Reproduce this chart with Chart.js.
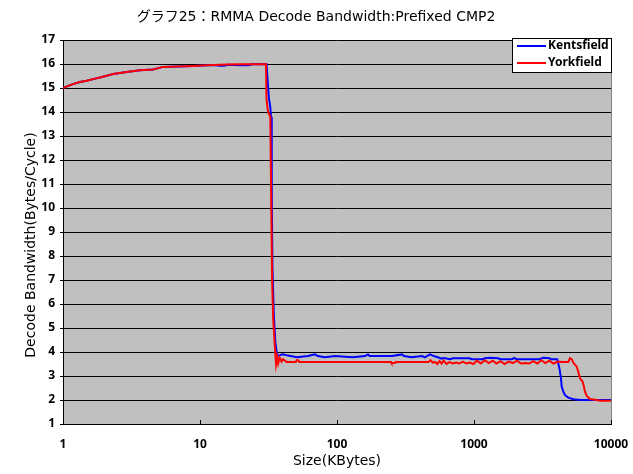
<!DOCTYPE html>
<html>
<head>
<meta charset="utf-8">
<script src="https://cdn.jsdelivr.net/npm/chart.js@4"></script>
<style>
  html, body { margin: 0; padding: 0; background: #fff; }
  canvas { display: block; }
</style>
</head>
<body>
<canvas id="grafico" width="633" height="474"></canvas>
<script>
// datos
const chartTitle = 'グラフ25：RMMA Decode Bandwidth:Prefixed CMP2';
const yAxisTitle = 'Decode Bandwidth(Bytes/Cycle)';
const xTickValues = [1, 10, 100, 1000, 10000];

const kentsfieldSizes = [
    1, 1.06, 1.18, 1.33, 1.49, 1.66, 1.96, 2.32, 2.92, 3.65,
    4.54, 5.37, 8.9, 12.4, 14, 15, 16, 19.6, 22.4, 24,
    30.6, 31.0, 31.8, 32.6, 33.0, 33.4, 33.8, 34.6, 35.5, 36.5,
    37.1, 40.3, 43.9, 51, 61.5, 68.9, 72.4, 81.6, 96.9, 130,
    160, 168, 173, 252, 298, 309, 352, 417, 438, 477,
    509, 544, 581, 600, 670, 700, 930, 960, 1160, 1200,
    1300, 1500, 1560, 1900, 1960, 2050, 3000, 3200, 3550, 3650,
    4050, 4200, 4300, 4370, 4490, 4620, 4880, 5310, 6000, 10000
];
const kentsfieldBW = [
    15.0, 15.06, 15.16, 15.25, 15.30, 15.37, 15.47, 15.58, 15.67, 15.74,
    15.77, 15.88, 15.92, 15.96, 15.93, 15.93, 15.97, 15.95, 15.95, 15.99,
    15.99, 15.5, 14.6, 14.2, 13.8, 10.5, 7.5, 5.5, 4.4, 3.88,
    3.85, 3.90, 3.85, 3.78, 3.83, 3.90, 3.83, 3.78, 3.83, 3.78,
    3.83, 3.90, 3.83, 3.83, 3.90, 3.83, 3.78, 3.83, 3.78, 3.90,
    3.83, 3.78, 3.72, 3.75, 3.70, 3.74, 3.74, 3.70, 3.70, 3.74,
    3.76, 3.74, 3.70, 3.70, 3.75, 3.70, 3.70, 3.76, 3.74, 3.70,
    3.70, 3.33, 2.97, 2.55, 2.35, 2.2, 2.1, 2.03, 2.0, 2.0
];

const yorkfieldSizes = [
    1, 1.06, 1.18, 1.33, 1.49, 1.66, 1.96, 2.32, 2.92, 3.65,
    4.54, 5.37, 8.9, 12.4, 16, 19.6, 30.3, 30.6, 31.4, 32.6,
    33.0, 33.6, 34.2, 35.2, 35.9, 36.5, 37.2, 38.1, 39.4, 40.4,
    43.0, 50.0, 50.8, 52.3, 53.0, 248, 250, 265, 268, 465,
    480, 500, 522, 540, 560, 580, 600, 630, 660, 700,
    740, 780, 830, 880, 930, 990, 1050, 1120, 1200, 1280,
    1370, 1460, 1560, 1670, 1790, 1920, 2060, 2200, 2360, 2530,
    2710, 2900, 3100, 3320, 3550, 3800, 4100, 4400, 4880, 5020,
    5165, 5313, 5620, 5770, 5940, 6210, 6350, 6460, 6650, 7030,
    7870, 8310, 10000
];
const yorkfieldBW = [
    15.0, 15.06, 15.16, 15.25, 15.30, 15.37, 15.47, 15.58, 15.67, 15.74,
    15.77, 15.88, 15.92, 15.96, 15.98, 15.99, 15.99, 14.5, 14.0, 13.8,
    11.0, 7.0, 5.4, 4.2, 3.5, 3.8, 3.52, 3.77, 3.6, 3.7,
    3.58, 3.58, 3.66, 3.66, 3.58, 3.58, 3.54, 3.54, 3.58, 3.58,
    3.66, 3.56, 3.58, 3.50, 3.62, 3.52, 3.64, 3.50, 3.58, 3.52,
    3.56, 3.52, 3.60, 3.52, 3.56, 3.50, 3.64, 3.52, 3.66, 3.54,
    3.64, 3.52, 3.62, 3.50, 3.60, 3.54, 3.64, 3.52, 3.54, 3.52,
    3.62, 3.52, 3.66, 3.54, 3.64, 3.52, 3.60, 3.58, 3.58, 3.74,
    3.70, 3.55, 3.39, 3.18, 2.9, 2.76, 2.55, 2.35, 2.17, 2.04,
    2.0, 1.97, 1.97
];

const FONT = "'DejaVu Sans', 'Noto Sans CJK JP', sans-serif";
const TICK_FONT = "'Noto Sans', 'DejaVu Sans', sans-serif";

function toPoints(xs, ys) {
    return xs.map((x, i) => ({ x: x, y: ys[i] }));
}

// fondo gris, borde, marcas del eje x, titulos y leyenda estilo Excel
const excelLook = {
    id: 'excelLook',
    beforeDraw(chart) {
        const { ctx, chartArea: a } = chart;
        ctx.save();
        ctx.fillStyle = '#ffffff';
        ctx.fillRect(0, 0, chart.width, chart.height);
        ctx.fillStyle = '#c0c0c0';
        ctx.fillRect(a.left, a.top, a.right - a.left, a.bottom - a.top);
        ctx.restore();
    },
    afterDraw(chart) {
        const { ctx, chartArea: a } = chart;
        const xScale = chart.scales.x;
        ctx.save();

        // borde derecho gris
        ctx.strokeStyle = '#808080';
        ctx.lineWidth = 1;
        ctx.beginPath();
        ctx.moveTo(a.right + 0.5, a.top);
        ctx.lineTo(a.right + 0.5, a.bottom);
        ctx.stroke();

        // marcas hacia adentro en el eje x
        ctx.strokeStyle = '#000';
        xTickValues.forEach(v => {
            const px = Math.round(xScale.getPixelForValue(v)) + 0.5;
            ctx.beginPath();
            ctx.moveTo(px, a.bottom);
            ctx.lineTo(px, a.bottom - 4);
            ctx.stroke();
        });

        // titulo
        ctx.fillStyle = '#000';
        ctx.font = '14px ' + FONT;
        ctx.textAlign = 'center';
        ctx.textBaseline = 'middle';
        ctx.fillText(chartTitle, 316, 17);

        // titulo del eje y
        ctx.save();
        ctx.translate(31, 245);
        ctx.rotate(-Math.PI / 2);
        ctx.fillText(yAxisTitle, 0, 0);
        ctx.restore();

        // leyenda
        const lx = 512, ly = 38, lw = 99, lh = 34;
        ctx.fillStyle = '#fff';
        ctx.fillRect(lx, ly, lw, lh);
        ctx.strokeStyle = '#000';
        ctx.lineWidth = 1;
        ctx.strokeRect(lx + 0.5, ly + 0.5, lw, lh);
        ctx.font = 'bold 12px ' + TICK_FONT;
        ctx.textAlign = 'left';
        chart.data.datasets.forEach((ds, i) => {
            const y = ly + 8 + i * 17;
            ctx.strokeStyle = ds.borderColor;
            ctx.lineWidth = 2;
            ctx.beginPath();
            ctx.moveTo(lx + 5, y);
            ctx.lineTo(lx + 34, y);
            ctx.stroke();
            ctx.fillStyle = '#000';
            ctx.fillText(ds.label, lx + 36, y);
        });
        ctx.restore();
    }
};

const ctx = document.getElementById('grafico').getContext('2d');
new Chart(ctx, {
    type: 'line',
    data: {
        datasets: [{
            label: 'Kentsfield',
            data: toPoints(kentsfieldSizes, kentsfieldBW),
            borderColor: '#0000ff',
            borderWidth: 2,
            pointRadius: 0,
            tension: 0,
            order: 1
        }, {
            label: 'Yorkfield',
            data: toPoints(yorkfieldSizes, yorkfieldBW),
            borderColor: '#ff0000',
            borderWidth: 2,
            pointRadius: 0,
            tension: 0,
            order: 0
        }]
    },
    options: {
        responsive: false,
        animation: false,
        events: [],
        layout: { padding: { top: 40, right: 22, left: 0, bottom: 0 } },
        plugins: {
            legend: { display: false },
            title: { display: false },
            tooltip: { enabled: false }
        },
        scales: {
            x: {
                type: 'logarithmic',
                min: 1,
                max: 10000,
                afterBuildTicks: (axis) => {
                    axis.ticks = xTickValues.map(v => ({ value: v }));
                },
                afterFit: (scale) => {
                    scale.height = 50;
                    scale.paddingLeft = 0;
                    scale.paddingRight = 0;
                },
                grid: { display: false, drawTicks: false },
                border: { display: true, color: '#000', width: 1 },
                ticks: {
                    padding: 13,
                    maxRotation: 0,
                    autoSkip: false,
                    color: '#000',
                    font: { family: TICK_FONT, size: 12, weight: 'bold' },
                    callback: (v) => String(v)
                },
                title: {
                    display: true,
                    text: 'Size(KBytes)',
                    color: '#000',
                    font: { family: FONT, size: 14 },
                    padding: { top: 0, bottom: 4 }
                }
            },
            y: {
                min: 1,
                max: 17,
                afterFit: (scale) => {
                    scale.width = 63;
                    scale.paddingTop = 0;
                    scale.paddingBottom = 0;
                },
                grid: { color: '#000', lineWidth: 1, drawTicks: true, tickLength: 3 },
                border: { display: true, color: '#000', width: 1 },
                ticks: {
                    stepSize: 1,
                    padding: 5,
                    color: '#000',
                    font: { family: TICK_FONT, size: 12, weight: 'bold' }
                },
                title: { display: false }
            }
        }
    },
    plugins: [excelLook]
});
</script>
</body>
</html>
